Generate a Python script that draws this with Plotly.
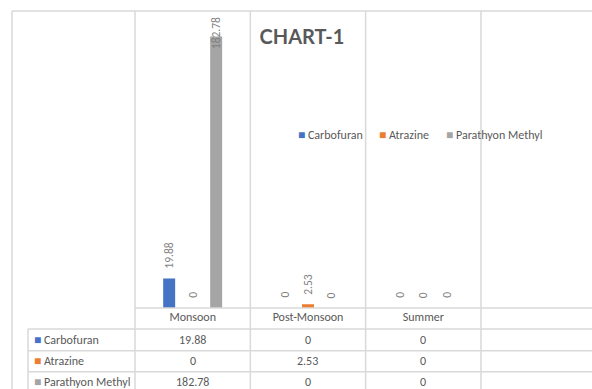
import plotly.graph_objects as go

# ---- data ----
categories = ["Monsoon", "Post-Monsoon", "Summer"]
series_names = ["Carbofuran", "Atrazine", "Parathyon Methyl"]
carbofuran = [19.88, 0, 0]
atrazine = [0, 2.53, 0]
parathyon_methyl = [182.78, 0, 0]
series_values = [carbofuran, atrazine, parathyon_methyl]
colors = ["#4472C4", "#ED7D31", "#A5A5A5"]

W, H = 592, 389
PL, PT, PB = 135, 11, 308          # plot area pixel edges (left, top, bottom)
PR = W
YMAX = 200
XR = [-0.5, 2.5 + (W - 481) / 115.3]
BARGAP, GROUPGAP = 0.389, 0.49

FONT = "Calibri, Carlito, Lato, sans-serif"
TXT = "#595959"
LBL = "#7f7f7f"
GRID = "#d9d9d9"

def px2x(px):
    return (px - PL) / (PR - PL)

def px2y(py):
    return (PB - py) / (PB - PT)

fig = go.Figure()
for name, vals, col in zip(series_names, series_values, colors):
    fig.add_trace(go.Bar(x=categories, y=vals, name=name, marker_color=col,
                         marker_line_width=0, showlegend=False, hoverinfo="skip"))

# rotated data labels
slot = (1 - BARGAP) / len(series_names)
for i, vals in enumerate(series_values):
    off = (i - (len(series_names) - 1) / 2) * slot
    for j, v in enumerate(vals):
        txt = f"{v:g}"
        if v > 0.8 * YMAX:
            ya, yy, ysh = "top", YMAX, -4
        else:
            ya, yy, ysh = "bottom", v, 8
        fig.add_annotation(x=j + off, y=yy, xref="x", yref="y", text=txt,
                           textangle=-90, showarrow=False, yanchor=ya, xanchor="center",
                           yshift=ysh, font=dict(family=FONT, size=11.5, color=LBL))

# legend (as text entries)
leg_x = [296, 377, 444]
for name, col, lx in zip(series_names, colors, leg_x):
    fig.add_annotation(x=px2x(lx), y=px2y(135), xref="paper", yref="paper",
                       text=f"<span style='color:{col}'>■</span> {name}",
                       showarrow=False, xanchor="left", yanchor="middle",
                       font=dict(family=FONT, size=12, color=TXT))

# ---- data table ----
row_lines = [329, 350.7, 371.7]
row_centers = [340, 361, 382]
for name, col, vals, ry in zip(series_names, colors, series_values, row_centers):
    fig.add_annotation(x=px2x(32), y=px2y(ry), xref="paper", yref="paper",
                       text=f"<span style='color:{col}'>■</span> {name}",
                       showarrow=False, xanchor="left", yanchor="middle",
                       font=dict(family=FONT, size=12, color=TXT))
    for j, v in enumerate(vals):
        fig.add_annotation(x=j, y=px2y(ry), xref="x", yref="paper", text=f"{v:g}",
                           showarrow=False, xanchor="center", yanchor="middle",
                           font=dict(family=FONT, size=12, color=TXT))

shapes = []
lw = 1.5
# outer frame
shapes.append(dict(type="line", xref="paper", yref="paper", x0=px2x(12), x1=1.0,
                   y0=1, y1=1, line=dict(color=GRID, width=lw)))
shapes.append(dict(type="line", xref="paper", yref="paper", x0=px2x(12), x1=px2x(12),
                   y0=1, y1=px2y(H + 5), line=dict(color=GRID, width=lw)))
# category boundaries through plot and table
for k in range(len(categories) + 1):
    b = k - 0.5
    xp = (b - XR[0]) / (XR[1] - XR[0])
    shapes.append(dict(type="line", xref="paper", yref="paper", x0=xp, x1=xp,
                       y0=1, y1=px2y(H + 5), line=dict(color=GRID, width=lw)))
# table horizontal lines
shapes.append(dict(type="line", xref="paper", yref="paper", x0=0, x1=1,
                   y0=0, y1=0, line=dict(color=GRID, width=lw)))
for ry in row_lines:
    shapes.append(dict(type="line", xref="paper", yref="paper", x0=px2x(28), x1=1,
                       y0=px2y(ry), y1=px2y(ry), line=dict(color=GRID, width=lw)))
shapes.append(dict(type="line", xref="paper", yref="paper", x0=px2x(28), x1=px2x(28),
                   y0=px2y(row_lines[0]), y1=px2y(H + 5), line=dict(color=GRID, width=lw)))

fig.update_layout(
    width=W, height=H,
    margin=dict(l=PL, r=W - PR, t=PT, b=H - PB, pad=0),
    paper_bgcolor="white", plot_bgcolor="white",
    barmode="group", bargap=BARGAP, bargroupgap=GROUPGAP,
    shapes=shapes,
    title=dict(text="<b>CHART-1</b>", x=px2x(302), xref="paper", xanchor="center",
               y=1 - 37 / H, yref="container", yanchor="middle",
               font=dict(family="Lato, sans-serif", size=20, color=TXT)),
    xaxis=dict(type="category", range=XR, showgrid=False, zeroline=False,
               showline=False, ticks="", tickfont=dict(family=FONT, size=12, color=TXT)),
    yaxis=dict(range=[0, YMAX], showgrid=False, zeroline=False, showline=False,
               showticklabels=False, ticks=""),
    font=dict(family=FONT, color=TXT),
)

fig.write_html("out.html")
